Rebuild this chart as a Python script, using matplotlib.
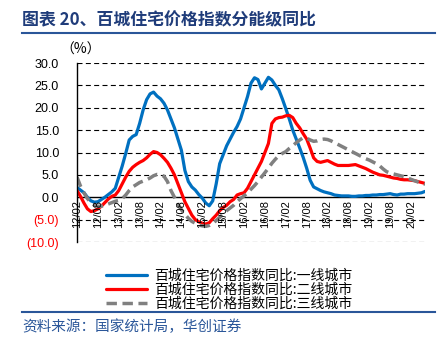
import numpy as np
import matplotlib
matplotlib.use('Agg')
import matplotlib.pyplot as plt

plt.rcParams['font.family'] = ['Liberation Sans', 'Noto Sans CJK SC', 'DejaVu Sans']

# 月度数据 2012/02 - 2020/06
tier1 = [2.2, 1.6, 1.0, 0.0, -0.8, -1.1, -1.0, -0.5, 0.0, 0.6,
         1.2, 2.0, 4.5, 7.0, 9.8, 12.8, 13.6, 14.0, 16.5, 19.5,
         21.8, 23.1, 23.5, 22.6, 22.0, 21.0, 19.5, 17.5, 15.5, 13.0,
         10.5, 6.0, 3.5, 2.3, 1.6, 0.6, -0.2, -1.3, -1.9, -0.8,
         3.0, 7.5, 9.5, 11.5, 13.0, 14.5, 15.8, 17.5, 20.0, 22.5,
         25.5, 26.7, 26.3, 24.2, 25.5, 26.8, 26.2, 25.0, 24.0, 22.0,
         19.8, 17.5, 15.0, 13.0, 11.0, 8.9, 6.5, 3.8, 2.3, 1.9,
         1.5, 1.2, 1.0, 0.8, 0.5, 0.4, 0.3, 0.3, 0.3, 0.2,
         0.2, 0.3, 0.3, 0.4, 0.4, 0.5, 0.5, 0.6, 0.6, 0.7,
         0.8, 0.6, 0.5, 0.7, 0.7, 0.8, 0.8, 0.8, 0.9, 1.0,
         1.3]
tier2 = [1.5, 0.2, -1.3, -2.6, -3.2, -3.0, -2.6, -2.0, -1.2, -0.4,
         0.2, 0.5, 1.5, 3.0, 4.5, 5.8, 6.7, 7.3, 7.8, 8.2,
         8.8, 9.6, 10.2, 10.0, 9.5, 8.7, 7.8, 6.5, 5.0, 3.0,
         1.0, -1.0, -2.5, -4.0, -5.0, -5.5, -5.8, -6.0, -5.7, -4.8,
         -4.0, -3.0, -2.3, -1.8, -1.0, -0.5, 0.5, 0.8, 1.0, 2.0,
         3.5, 5.0, 6.5, 8.0, 10.0, 12.0, 16.5, 17.5, 17.8, 17.9,
         18.2, 18.3, 17.8, 16.5, 15.5, 14.2, 13.0, 11.0, 8.8, 8.0,
         7.8, 8.0, 8.2, 7.8, 7.4, 7.1, 7.1, 7.1, 7.1, 7.2,
         7.3, 7.0, 6.7, 6.4, 6.0, 5.6, 5.3, 5.0, 4.9, 4.7,
         4.5, 4.3, 4.2, 4.0, 3.9, 3.9, 3.8, 3.7, 3.5, 3.3,
         3.1]
tier3 = [4.5, 2.5, 1.0, -0.3, -1.2, -1.8, -2.0, -2.0, -1.8, -1.5,
         -1.2, -0.9, -0.7, -0.3, 0.5, 1.5, 2.3, 2.8, 3.3, 3.6,
         3.9, 4.3, 4.8, 5.1, 5.0, 4.7, 3.5, 1.5, 0.0, -1.5,
         -2.8, -3.8, -4.7, -5.4, -5.8, -6.2, -6.4, -6.5, -6.3, -5.8,
         -5.2, -4.5, -3.8, -3.0, -2.4, -1.8, -1.0, -0.3, 0.3, 1.0,
         1.8, 2.6, 3.5, 4.5, 5.5, 6.5, 7.6, 8.5, 9.3, 9.8,
         10.2, 10.9, 11.5, 12.2, 12.8, 13.3, 13.2, 12.8, 12.5, 12.6,
         12.9, 13.0, 12.9, 12.6, 12.2, 11.8, 11.4, 11.0, 10.6, 10.2,
         9.8, 9.4, 9.0, 8.6, 8.3, 7.9, 7.5, 7.0, 6.3, 5.7,
         5.4, 5.2, 5.0, 4.8, 4.6, 4.3, 4.0, 3.7, 3.4, 3.1,
         2.9]
tick_labels = ['12/02', '12/08', '13/02', '13/08', '14/02', '14/08', '15/02', '15/08',
               '16/02', '16/08', '17/02', '17/08', '18/02', '18/08', '19/02', '19/08', '20/02']
names = ['百城住宅价格指数同比:一线城市', '百城住宅价格指数同比:二线城市', '百城住宅价格指数同比:三线城市']

fig = plt.figure(figsize=(4.42, 3.5), dpi=100)
ax = fig.add_axes([77/442, 1-242/350, (425-77)/442, (242-63)/350])

x = np.arange(len(tier1))
ax.plot(x, tier1, color='#0070C0', lw=2.3, label=names[0], solid_capstyle='round')
ax.plot(x, tier2, color='#FF0000', lw=2.3, label=names[1], solid_capstyle='round')
ax.plot(x, tier3, color='#808080', lw=2.5, ls=(0, (3, 1.6)), label=names[2])

ax.set_xlim(0, 100)
ax.set_ylim(-10, 30)
yt = list(range(-10, 31, 5))
ax.set_yticks(yt)
ax.set_yticklabels(['({:.1f})'.format(-v) if v < 0 else '{:.1f}'.format(v) for v in yt], fontsize=9)
for lab, v in zip(ax.get_yticklabels(), yt):
    if v < 0:
        lab.set_color('#FF0000')
ax.tick_params(axis='y', length=0, pad=13)
ax.set_xticks([])
for v in yt:
    if v != 0:
        ax.axhline(v, color='black', lw=0.8, ls=(0, (4.5, 3)), zorder=0)
ax.axhline(0, color='black', lw=1.0, zorder=1)
for s in ['top', 'right', 'bottom']:
    ax.spines[s].set_visible(False)
ax.spines['left'].set_linewidth(1.0)

for i, t in enumerate(tick_labels):
    ax.text(i*6, -0.7, t, rotation=90, ha='center', va='top', fontsize=8)

fig.text(60/442, 1-50/350, '（%）', fontsize=10, va='center', ha='left', family=['Noto Sans CJK SC'])

fig.text(22/442, 1-20/350, '图表 20、百城住宅价格指数分能级同比', fontsize=12.2, fontweight='bold',
         color='#1F3C7A', va='center', ha='left', family=['Noto Sans CJK SC'])
fig.add_artist(plt.Line2D([22/442, 435/442], [1-33/350, 1-33/350], color='#2A5699', lw=1.5))
fig.add_artist(plt.Line2D([22/442, 435/442], [1-312/350, 1-312/350], color='#2A5699', lw=1.5))
fig.text(22/442, 1-327/350, '资料来源：国家统计局，华创证券', fontsize=10.5, style='italic',
         color='#2A5699', va='center', ha='left', family=['Noto Sans CJK SC'])

fig.legend(loc='upper left', bbox_to_anchor=(96/442, 1-259/350), frameon=False,
           handlelength=3.0, handletextpad=0.5, labelspacing=0.0,
           borderpad=0.2, prop={'family': ['Noto Sans CJK SC'], 'size': 10})

plt.savefig('out.png', dpi=100)
